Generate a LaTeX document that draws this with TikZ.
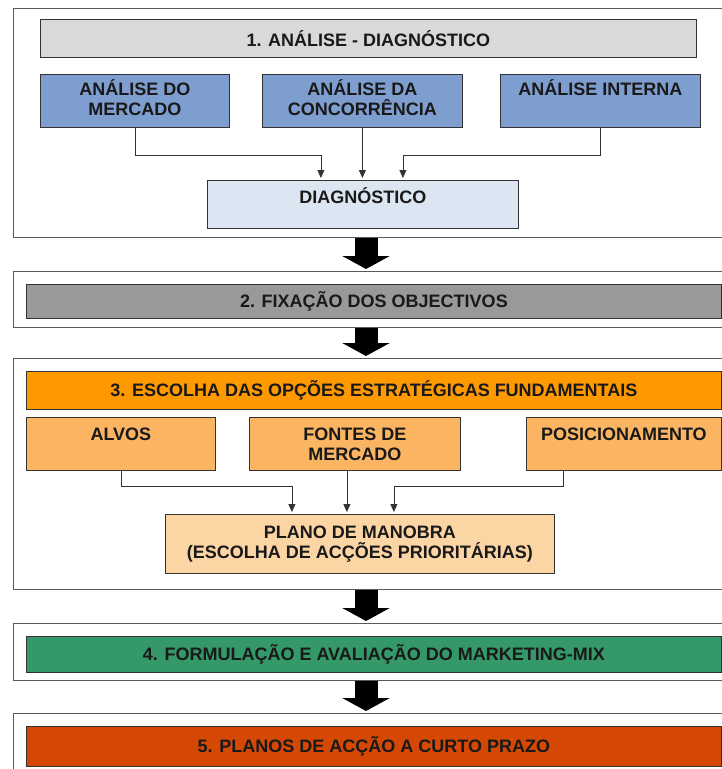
\documentclass[tikz,border=0pt]{standalone}
\usepackage{fontspec}
\setmainfont{Liberation Sans}
\usetikzlibrary{arrows.meta,positioning}
\definecolor{hdrgray}{RGB}{217,217,217}
\definecolor{midgray}{RGB}{153,153,153}
\definecolor{analblue}{RGB}{127,158,208}
\definecolor{diagblue}{RGB}{220,230,242}
\definecolor{optorange}{RGB}{255,153,0}
\definecolor{srcorange}{RGB}{250,180,98}
\definecolor{planpeach}{RGB}{252,213,165}
\definecolor{mixgreen}{RGB}{52,152,104}
\definecolor{actred}{RGB}{212,72,4}

\begin{document}
\begin{tikzpicture}[x=1pt, y=-1pt,
  font=\bfseries\fontsize{18}{20}\selectfont,
  frame/.style={draw=black!65, line width=1.3pt, inner sep=0pt, anchor=north west, minimum width=722pt},
  box/.style={draw=black!80, line width=0.8pt, inner sep=0pt, anchor=north west, text=black!90, align=center},
  txt/.style={inner sep=0pt, align=center, text=black!90, anchor=north},
  conn/.style={draw=black!80, line width=0.8pt, -{Triangle[length=8pt,width=7pt]}, shorten >=2pt},
  bigarrow/.style={draw=black, line width=23pt, -{Triangle[length=13pt,width=47pt]}}]
  \path[use as bounding box, fill=white] (0,0) rectangle (722,769);
  \clip (0,0) rectangle (722,769);

  % outer frames
  \node[frame, minimum height=229pt] (sec1) at (13,8) {};
  \node[frame, minimum height=56pt] (sec2) at (13,271) {};
  \node[frame, minimum height=231pt] (sec3) at (13,358) {};
  \node[frame, minimum height=57pt] (sec4) at (13,623) {};
  \node[frame, minimum height=80pt] (sec5) at (13,713) {};

  % 1. analysis
  \node[box, fill=hdrgray, minimum width=656pt, minimum height=38pt] (hdr1) at (40,19) {1. ANÁLISE - DIAGNÓSTICO};
  \node[box, fill=analblue, minimum width=189pt, minimum height=53pt] (mkt) at (40,74) {};
  \node[box, fill=analblue, minimum width=200pt, minimum height=53pt] (conc) at (262,74) {};
  \node[box, fill=analblue, minimum width=200pt, minimum height=53pt] (intn) at (500,74) {};
  \node[txt] (mkttxt) at ([yshift=-5pt]mkt.north) {ANÁLISE DO\\MERCADO};
  \node[txt] (conctxt) at ([yshift=-5pt]conc.north) {ANÁLISE DA\\CONCORRÊNCIA};
  \node[txt] (intntxt) at ([yshift=-5pt]intn.north) {ANÁLISE INTERNA};
  \node[box, fill=diagblue, minimum width=311pt, minimum height=48pt] (diag) at (207,180) {};
  \node[txt] (diagtxt) at ([yshift=-7pt]diag.north) {DIAGNÓSTICO};
  \draw[conn] (mkt.south) -- ++(0,28) -| ([xshift=-42pt]diag.north);
  \draw[conn] (conc.south) -- (conc.south |- diag.north);
  \draw[conn] (intn.south) -- ++(0,28) -| ([xshift=40pt]diag.north);

  % 2. objectives
  \node[box, fill=midgray, minimum width=695pt, minimum height=34pt] (hdr2) at (26,284) {2. FIXAÇÃO DOS OBJECTIVOS};

  % 3. strategic options
  \node[box, fill=optorange, minimum width=695pt, minimum height=38pt] (hdr3) at (26,371) {3. ESCOLHA DAS OPÇÕES ESTRATÉGICAS FUNDAMENTAIS};
  \node[box, fill=srcorange, minimum width=189pt, minimum height=53pt] (alvos) at (26,417) {};
  \node[box, fill=srcorange, minimum width=211pt, minimum height=53pt] (fontes) at (249,417) {};
  \node[box, fill=srcorange, minimum width=195pt, minimum height=53pt] (posic) at (526,417) {};
  \node[txt] (alvostxt) at ([yshift=-11pt]alvos.north) {ALVOS};
  \node[txt] (fontestxt) at ([yshift=-11pt]fontes.north) {FONTES DE\\MERCADO};
  \node[txt] (posictxt) at ([yshift=-11pt]posic.north) {POSICIONAMENTO};
  \node[box, fill=planpeach, minimum width=389pt, minimum height=59pt] (plano) at (165,514) {PLANO DE MANOBRA\\(ESCOLHA DE ACÇÕES PRIORITÁRIAS)};
  \draw[conn] (alvos.south) -- ++(0,16) -| ([xshift=-68pt]plano.north);
  \draw[conn] ([xshift=-8pt]fontes.south) -- ([xshift=-8pt]fontes.south |- plano.north);
  \draw[conn] ([xshift=-61pt]posic.south) -- ++(0,16) -| ([xshift=34pt]plano.north);

  % 4. marketing-mix
  \node[box, fill=mixgreen, minimum width=695pt, minimum height=36pt] (hdr4) at (26,636) {4. FORMULAÇÃO E AVALIAÇÃO DO MARKETING-MIX};

  % 5. action plans
  \node[box, fill=actred, minimum width=695pt, minimum height=40pt] (hdr5) at (26,726) {5. PLANOS DE ACÇÃO A CURTO PRAZO};

  % flow between stages
  \coordinate (axis) at (366,0);
  \draw[bigarrow] (sec1.south -| axis) -- ([yshift=2pt]sec2.north -| axis);
  \draw[bigarrow] (sec2.south -| axis) -- ([yshift=2pt]sec3.north -| axis);
  \draw[bigarrow] (sec3.south -| axis) -- ([yshift=2pt]sec4.north -| axis);
  \draw[bigarrow] (sec4.south -| axis) -- ([yshift=2pt]sec5.north -| axis);
\end{tikzpicture}
\end{document}
